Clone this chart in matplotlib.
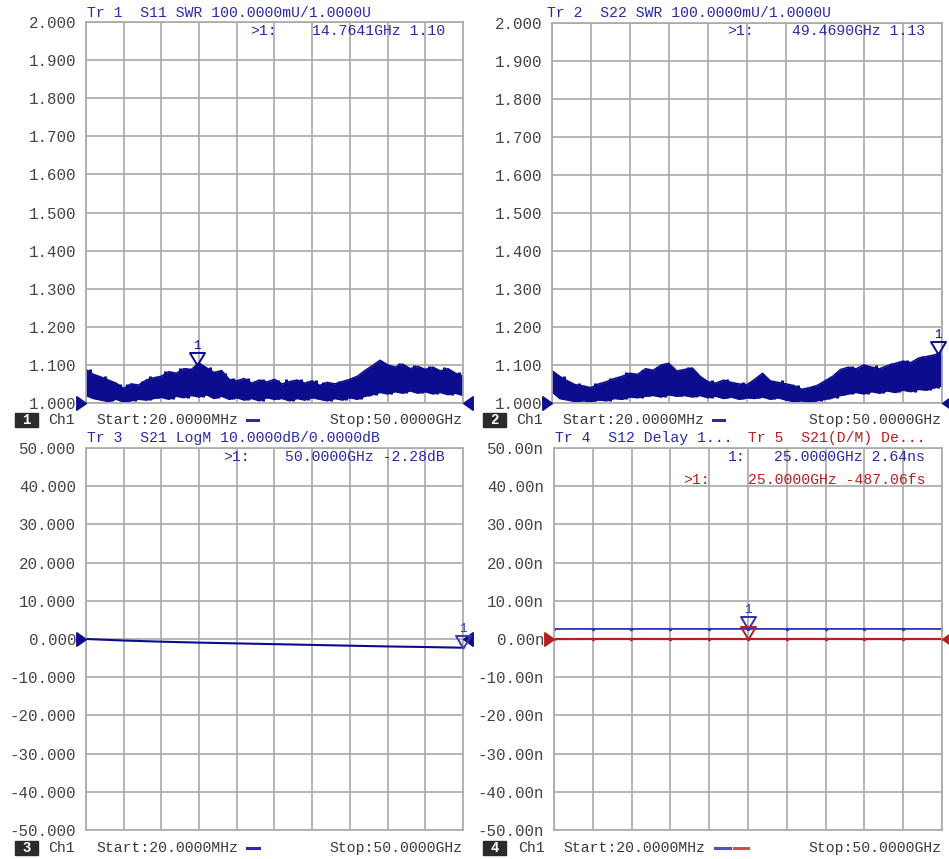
'''
Tela de um analisador vetorial de rede com 4 janelas (SWR, LogM, Delay)
'''

import numpy as np
import matplotlib.pyplot as plt
from matplotlib.path import Path
from matplotlib.markers import MarkerStyle
from matplotlib.patches import Rectangle
from matplotlib.lines import Line2D

W, H = 949, 859
MONO = 'Liberation Mono'
BLUE = '#2a2aa6'
TRACE = '#0c0c8e'
RED = '#b42020'
GRID = '#a9a9a9'
TXT = '#3a3a3a'

F_START, F_STOP = 0.02, 50.0

# eixo de frequencia das curvas SWR (GHz)
swr_freq = list(range(0, 51))
spike_freq = [k + 0.5 for k in range(50)]

# S11 SWR: envelope superior e inferior do ruido
s11_hi = [1.088, 1.075, 1.068, 1.060, 1.052, 1.038, 1.050, 1.047, 1.060, 1.066,
          1.070, 1.082, 1.078, 1.090, 1.088, 1.105, 1.092, 1.080, 1.085, 1.062,
          1.058, 1.064, 1.052, 1.060, 1.055, 1.062, 1.050, 1.056, 1.060, 1.052,
          1.058, 1.046, 1.054, 1.050, 1.056, 1.062, 1.070, 1.085, 1.098, 1.112,
          1.100, 1.094, 1.102, 1.090, 1.096, 1.088, 1.094, 1.084, 1.090, 1.078,
          1.070]
s11_lo = [1.020, 1.012, 1.008, 1.004, 1.010, 1.003, 1.006, 1.010, 1.008, 1.012,
          1.015, 1.010, 1.018, 1.014, 1.020, 1.016, 1.022, 1.012, 1.018, 1.010,
          1.014, 1.008, 1.012, 1.006, 1.014, 1.010, 1.012, 1.006, 1.012, 1.008,
          1.014, 1.010, 1.006, 1.012, 1.008, 1.014, 1.010, 1.018, 1.022, 1.028,
          1.024, 1.030, 1.026, 1.032, 1.026, 1.030, 1.024, 1.028, 1.022, 1.026,
          1.020]
# picos do ruido entre os pontos acima
s11_spk = [1.090, 1.064, 1.072, 1.048, 1.050, 1.050, 1.040, 1.058, 1.070, 1.060,
           1.084, 1.072, 1.092, 1.080, 1.098, 1.088, 1.094, 1.070, 1.078, 1.066,
           1.052, 1.066, 1.048, 1.064, 1.050, 1.060, 1.062, 1.048, 1.062, 1.046,
           1.060, 1.056, 1.044, 1.058, 1.050, 1.068, 1.076, 1.090, 1.100, 1.106,
           1.088, 1.104, 1.094, 1.100, 1.084, 1.098, 1.086, 1.094, 1.080, 1.082]

# S22 SWR
s22_hi = [1.085, 1.070, 1.058, 1.048, 1.045, 1.040, 1.050, 1.056, 1.064, 1.070,
          1.078, 1.075, 1.090, 1.086, 1.100, 1.104, 1.084, 1.088, 1.092, 1.070,
          1.056, 1.052, 1.060, 1.054, 1.050, 1.048, 1.062, 1.078, 1.058, 1.054,
          1.050, 1.046, 1.036, 1.040, 1.046, 1.058, 1.070, 1.088, 1.094, 1.090,
          1.100, 1.094, 1.090, 1.098, 1.104, 1.110, 1.106, 1.118, 1.122, 1.126,
          1.134]
s22_lo = [1.030, 1.012, 1.008, 1.004, 1.006, 1.004, 1.008, 1.006, 1.012, 1.010,
          1.016, 1.014, 1.018, 1.020, 1.016, 1.022, 1.018, 1.020, 1.016, 1.020,
          1.014, 1.018, 1.012, 1.016, 1.010, 1.014, 1.012, 1.016, 1.010, 1.014,
          1.008, 1.004, 1.006, 1.002, 1.006, 1.010, 1.014, 1.020, 1.024, 1.028,
          1.024, 1.030, 1.026, 1.032, 1.028, 1.034, 1.030, 1.036, 1.034, 1.040,
          1.045]
s22_spk = [1.066, 1.072, 1.046, 1.052, 1.036, 1.052, 1.046, 1.066, 1.058, 1.082,
           1.070, 1.088, 1.078, 1.096, 1.092, 1.096, 1.078, 1.094, 1.078, 1.064,
           1.060, 1.050, 1.062, 1.044, 1.056, 1.054, 1.072, 1.064, 1.050, 1.060,
           1.042, 1.048, 1.030, 1.046, 1.050, 1.064, 1.080, 1.084, 1.098, 1.086,
           1.092, 1.100, 1.086, 1.106, 1.100, 1.114, 1.102, 1.124, 1.116, 1.132]

# S21 LogM (dB)
s21_freq = [0.02, 5, 10, 15, 20, 25, 30, 35, 40, 45, 50]
s21_db = [0.0, -0.40, -0.70, -0.95, -1.15, -1.35, -1.55, -1.75, -1.95, -2.10, -2.28]

# S12 Delay e S21(D/M) Delay (ns)
delay_freq = [0.02, 5, 10, 15, 20, 25, 30, 35, 40, 45, 50]
s12_delay = [2.62, 2.64, 2.63, 2.65, 2.64, 2.64, 2.63, 2.64, 2.65, 2.64, 2.63]
s21dm_delay = [-0.02, 0.0, 0.01, -0.01, 0.0, -0.0005, 0.0, 0.01, -0.01, 0.0, 0.0]

# marcadores (GHz, valor)
s11_mk = (14.7641, 1.10)
s22_mk = (49.4690, 1.13)
s21_mk = (50.0, -2.28)
s12_mk = (25.0, 2.64)
s21dm_mk = (25.0, -0.00048706)

swr_ticks = ['2.000', '1.900', '1.800', '1.700', '1.600', '1.500',
             '1.400', '1.300', '1.200', '1.100', '1.000']
db_ticks = ['50.000', '40.000', '30.000', '20.000', '10.000', '0.000',
            '-10.000', '-20.000', '-30.000', '-40.000', '-50.000']
ns_ticks = ['50.00n', '40.00n', '30.00n', '20.00n', '10.00n', '0.00n',
            '-10.00n', '-20.00n', '-30.00n', '-40.00n', '-50.00n']

# triangulo com a ponta na origem
TRI_DOWN = MarkerStyle(Path([(-1.2, 2.0), (1.2, 2.0), (0, 0), (-1.2, 2.0)],
                            [Path.MOVETO, Path.LINETO, Path.LINETO, Path.CLOSEPOLY]))
TRI_RIGHT = MarkerStyle(Path([(-2.0, -1.4), (-2.0, 1.4), (0, 0), (-2.0, -1.4)],
                             [Path.MOVETO, Path.LINETO, Path.LINETO, Path.CLOSEPOLY]))
TRI_LEFT = MarkerStyle(Path([(2.0, -1.4), (2.0, 1.4), (0, 0), (2.0, -1.4)],
                            [Path.MOVETO, Path.LINETO, Path.LINETO, Path.CLOSEPOLY]))

fig = plt.figure(figsize=(W / 100, H / 100), dpi=100)
fig.patch.set_facecolor('white')


def ftext(x, y, s, **kw):
    kw.setdefault('family', MONO)
    kw.setdefault('fontsize', 10.6)
    kw.setdefault('va', 'center')
    return fig.text(x / W, 1 - y / H, s, **kw)


def panel(l, t, r, b, ylo, yhi, labels):
    ax = fig.add_axes([l / W, 1 - b / H, (r - l) / W, (b - t) / H])
    ax.set_xlim(F_START, F_STOP)
    ax.set_ylim(ylo, yhi)
    ax.set_xticks(np.linspace(F_START, F_STOP, 11))
    ax.set_xticklabels([])
    ax.set_yticks(np.linspace(yhi, ylo, 11))
    ax.set_yticklabels(labels, family=MONO, fontsize=11.3, color='#444444')
    ax.tick_params(length=0, pad=7)
    ax.grid(True, color=GRID, lw=1.2)
    ax.set_axisbelow(True)
    for sp in ax.spines.values():
        sp.set_color(GRID)
        sp.set_linewidth(1.2)
    return ax


def swr_trace(ax, lo, hi, spk):
    ax.fill_between(swr_freq, lo, hi, color=TRACE, lw=0)
    ax.plot(swr_freq, hi, color=TRACE, lw=1.2)
    ax.plot(swr_freq, lo, color=TRACE, lw=1.2)
    # cada pico parte do envelope inferior do ponto a esquerda
    ax.vlines(spike_freq, lo[:-1], spk, color=TRACE, lw=2.2)


def ref_arrows(ax, y, color):
    ax.plot([F_START], [y], marker=TRI_RIGHT, ms=14, color=color, clip_on=False, zorder=5)
    ax.plot([F_STOP], [y], marker=TRI_LEFT, ms=14, color=color, clip_on=False, zorder=5)


def marker(ax, mk, color, label=True, ms=18):
    ax.plot([mk[0]], [mk[1]], marker=TRI_DOWN, ms=ms, mfc='none', mec=color,
            mew=1.4, clip_on=False, zorder=6)
    if label:
        ax.annotate('1', mk, xytext=(0, ms * 0.5), textcoords='offset points',
                    ha='center', va='bottom', fontsize=9, family=MONO, color=color)


def info(y, box_x, ch_x, start_x, stop_r, num, dashes):
    fig.add_artist(Rectangle((box_x / W, 1 - (y + 7) / H), 23 / W, 14 / H,
                             transform=fig.transFigure, color='#2b2b2b'))
    ftext(box_x + 11.5, y, num, ha='center', color='white', fontsize=10, weight='bold')
    ftext(ch_x, y, 'Ch1', color=TXT)
    ftext(start_x, y, 'Start:20.0000MHz', color=TXT)
    ftext(stop_r, y, 'Stop:50.0000GHz', color=TXT, ha='right')
    for x0, x1, c in dashes:
        fig.add_artist(Line2D([x0 / W, x1 / W], [1 - y / H, 1 - y / H], color=c,
                              lw=2.2, transform=fig.transFigure))


# --- janela 1: S11 SWR
ax1 = panel(86, 22, 463, 403, 1.0, 2.0, swr_ticks)
swr_trace(ax1, s11_lo, s11_hi, s11_spk)
ref_arrows(ax1, 1.0, TRACE)
marker(ax1, s11_mk, TRACE)
ftext(87, 13, 'Tr 1  S11 SWR 100.0000mU/1.0000U', color=BLUE)
ftext(250, 31, '>1:', color=BLUE)
ftext(445, 31, '14.7641GHz 1.10', color=BLUE, ha='right')
info(420, 15, 48, 96, 463, '1', [(247, 258, BLUE)])

# --- janela 2: S22 SWR
ax2 = panel(552, 23, 942, 403, 1.0, 2.0, swr_ticks)
swr_trace(ax2, s22_lo, s22_hi, s22_spk)
ref_arrows(ax2, 1.0, TRACE)
marker(ax2, s22_mk, TRACE)
ftext(547, 13, 'Tr 2  S22 SWR 100.0000mU/1.0000U', color=BLUE)
ftext(727, 31, '>1:', color=BLUE)
ftext(925, 31, '49.4690GHz 1.13', color=BLUE, ha='right')
info(420, 483, 516, 562, 942, '2', [(713, 724, BLUE)])

# --- janela 3: S21 LogM
ax3 = panel(86, 448, 463, 830, -50, 50, db_ticks)
ax3.plot(s21_freq, s21_db, color=TRACE, lw=1.5)
ref_arrows(ax3, 0.0, TRACE)
marker(ax3, s21_mk, '#3a3aa8')
ftext(87, 438, 'Tr 3  S21 LogM 10.0000dB/0.0000dB', color=BLUE)
ftext(223, 457, '>1:', color=BLUE)
ftext(445, 457, '50.0000GHz -2.28dB', color=BLUE, ha='right')
info(848, 15, 48, 96, 463, '3', [(247, 259, BLUE)])

# --- janela 4: Delay
ax4 = panel(554, 448, 942, 830, -50, 50, ns_ticks)
ax4.plot(delay_freq, s12_delay, color='#3030b8', lw=1.3, marker='.', ms=3)
ax4.plot(delay_freq, s21dm_delay, color=RED, lw=1.6, marker='.', ms=3)
ref_arrows(ax4, 0.0, RED)
marker(ax4, s12_mk, '#3030b8')
marker(ax4, s21dm_mk, RED, label=False)
ftext(555, 438, 'Tr 4  S12 Delay 1...', color=BLUE)
ftext(748, 438, 'Tr 5  S21(D/M) De...', color=RED)
ftext(728, 457, '1:', color=BLUE)
ftext(925, 457, '25.0000GHz 2.64ns', color=BLUE, ha='right')
ftext(683, 480, '>1:', color=RED)
ftext(925, 480, '25.0000GHz -487.06fs', color=RED, ha='right')
info(848, 483, 518, 563, 942, '4', [(715, 730, '#5050c8'), (734, 748, '#d05050')])

plt.savefig('out.png', dpi=100, facecolor='white')
